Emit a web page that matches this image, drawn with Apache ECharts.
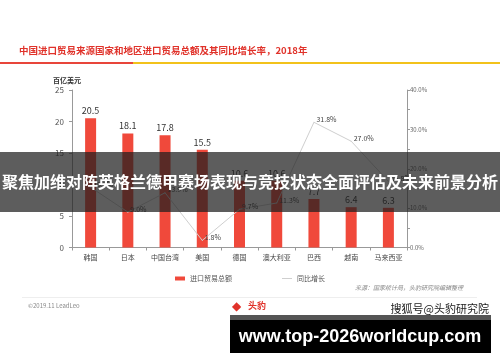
<!DOCTYPE html>
<html>
<head>
<meta charset="utf-8">
<script src="https://cdn.jsdelivr.net/npm/echarts@6/dist/echarts.min.js"></script>
<style>
html,body{margin:0;padding:0;background:#fff;}
#c{width:500px;height:362px;}
</style>
</head>
<body>
<div id="c"></div>
<script>
var categories = ['韩国','日本','中国台湾','美国','德国','澳大利亚','巴西','越南','马来西亚'];
var importTotal = [20.5, 18.1, 17.8, 15.5, 10.6, 10.6, 7.7, 6.4, 6.3];
var yoyGrowth = [15.3, 9.0, 13.9, 1.8, 9.7, 11.3, 31.8, 27.0, 16.8];
var leftTicks = [0, 5, 10, 15, 20, 25];
var rightTicks = [0, 10, 20, 30, 40];

var FONT = '"Noto Sans CJK SC", "Noto Sans", sans-serif';
var chart = echarts.init(document.getElementById('c'));
chart.setOption({
  backgroundColor: '#fff',
  animation: false,
  textStyle: {fontFamily: FONT},
  grid: {left: 72, right: 93, top: 90, bottom: 114.5},
  legend: {
    data: [{name: '进口贸易总额', icon: 'rect'}, {name: '同比增长', icon: 'path://M0,0L10,0L10,1L0,1Z'}],
    top: 270, left: 'center', itemGap: 50, itemWidth: 10, itemHeight: 4,
    textStyle: {fontSize: 7, color: '#555', fontFamily: FONT}
  },
  xAxis: {
    type: 'category', data: categories,
    axisLine: {lineStyle: {color: '#999', width: 1}},
    axisTick: {show: true, length: 3, lineStyle: {color: '#999'}},
    axisLabel: {fontSize: 7, color: '#444', margin: 6, fontFamily: FONT}
  },
  yAxis: [
    {
      type: 'value', min: 0, max: 25, interval: 5,
      name: '百亿美元', nameLocation: 'end', nameGap: 6,
      nameTextStyle: {fontSize: 7, color: '#333', align: 'center', padding: [0,0,0,-10], fontWeight: 'bold'},
      axisLine: {show: true, lineStyle: {color: '#999'}},
      axisTick: {show: true, length: 3, lineStyle: {color: '#999'}},
      splitLine: {show: false},
      axisLabel: {fontSize: 8, color: '#555', margin: 8,
        formatter: function(v){ return leftTicks.indexOf(v) >= 0 ? String(v) : ''; }}
    },
    {
      type: 'value', min: 0, max: 40, interval: 5, position: 'right',
      axisLine: {show: true, lineStyle: {color: '#999'}},
      axisTick: {show: true, length: 3, lineStyle: {color: '#999'}},
      splitLine: {show: false},
      axisLabel: {fontSize: 6, color: '#666', margin: 3,
        formatter: function(v){ return rightTicks.indexOf(v) >= 0 ? v.toFixed(1) + '%' : ''; }}
    }
  ],
  series: [
    {
      name: '进口贸易总额', type: 'bar', data: importTotal, barWidth: 11,
      itemStyle: {color: '#F0493B'},
      label: {show: true, position: 'top', fontSize: 9, color: '#333', distance: 3,
        formatter: function(p){ return p.value.toFixed(1); }}
    },
    {
      name: '同比增长', type: 'line', yAxisIndex: 1, data: yoyGrowth,
      symbol: 'circle', symbolSize: 1,
      lineStyle: {color: '#cfcfcf', width: 1},
      itemStyle: {color: '#cfcfcf'},
      label: {show: true, position: 'right', distance: 2, offset: [0, -3], fontSize: 7, color: '#444',
        formatter: function(p){ return p.value.toFixed(1) + '%'; }}
    }
  ],
  graphic: [
    {type: 'text', x: 19, y: 46, style: {text: '中国进口贸易来源国家和地区进口贸易总额及其同比增长率，2018年', fontSize: 9.5, fontWeight: 'bold', fill: '#E0322A', fontFamily: FONT}},
    {type: 'rect', shape: {x: 0, y: 62, width: 133, height: 2}, style: {fill: '#E8453A'}},
    {type: 'rect', shape: {x: 133, y: 62, width: 367, height: 2}, style: {fill: '#F2C21B'}},
    {type: 'text', right: 37, top: 285, style: {text: '来源：国家统计局，头豹研究院编辑整理', fontSize: 6, fontStyle: 'italic', fill: '#888', fontFamily: FONT}},
    {type: 'rect', shape: {x: 22, y: 297, width: 455, height: 1}, style: {fill: '#eee'}},
    {type: 'text', left: 28, top: 303, style: {text: '©2019.11 LeadLeo', fontSize: 6, fill: '#888', fontFamily: FONT}},
    {type: 'text', left: 248, top: 301, style: {text: '头豹', fontSize: 9, fontWeight: 'bold', fill: '#E0322A', fontFamily: FONT}},
    {type: 'text', left: 232, top: 301, style: {text: '◆', fontSize: 12, fill: '#E0322A'}},
    {type: 'text', right: 10, top: 302, style: {text: '搜狐号@头豹研究院', fontSize: 11, fill: '#222', stroke: '#fff', lineWidth: 2, fontFamily: FONT}},
    {type: 'rect', z: 100, shape: {x: 0, y: 152, width: 500, height: 60}, style: {fill: 'rgba(30,30,30,0.72)'}},
    {type: 'text', z: 101, x: 250, y: 182, style: {text: '聚焦加维对阵英格兰德甲赛场表现与竞技状态全面评估及未来前景分析', fontSize: 16, fontWeight: 'bold', fill: '#fff', align: 'center', verticalAlign: 'middle', fontFamily: FONT}},
    {type: 'rect', z: 100, shape: {x: 230, y: 315, width: 261, height: 5}, style: {fill: '#555'}},
    {type: 'rect', z: 100, shape: {x: 230, y: 320, width: 261, height: 33}, style: {fill: '#000'}},
    {type: 'text', z: 101, x: 360, y: 337, style: {text: 'www.top-2026worldcup.com', fontSize: 18, fontWeight: 'bold', fill: '#fff', align: 'center', verticalAlign: 'middle', fontFamily: '"Liberation Sans", Arial, sans-serif'}}
  ]
});
</script>
</body>
</html>
